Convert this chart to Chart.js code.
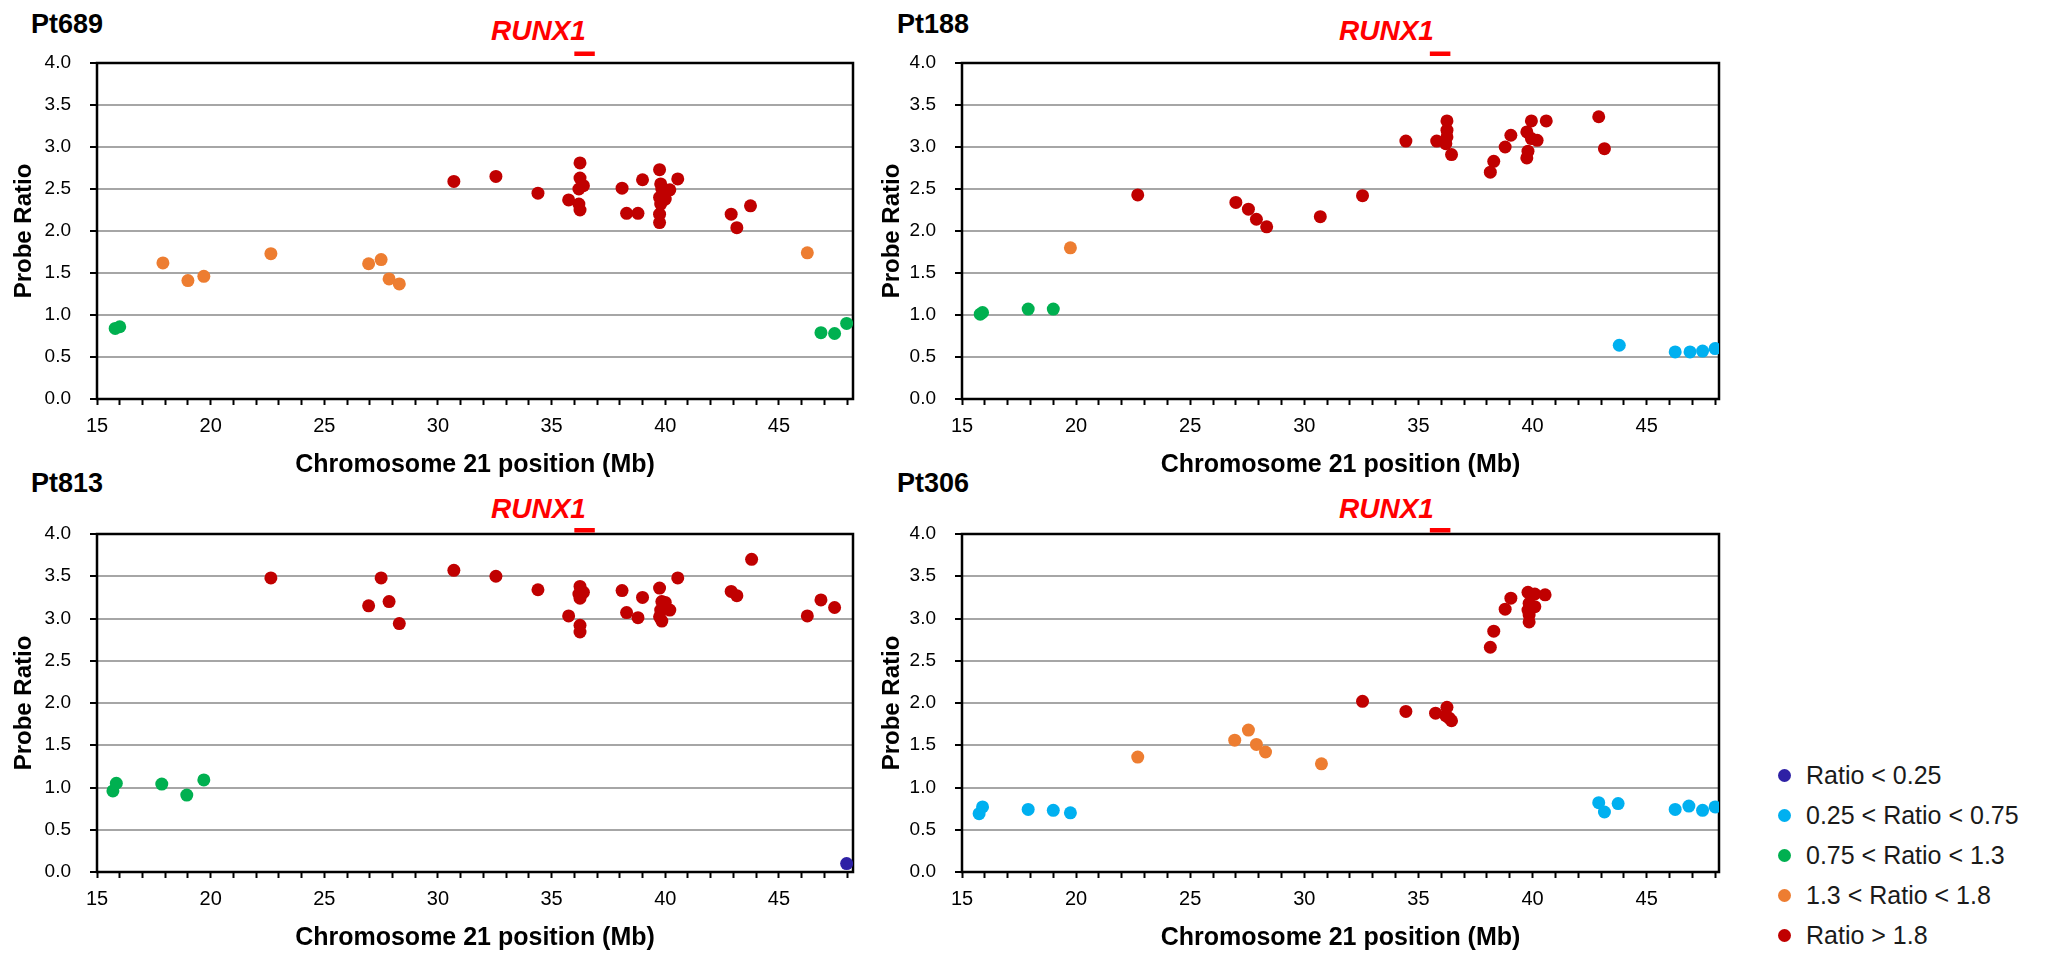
<!DOCTYPE html>
<html>
<head>
<meta charset="utf-8">
<title>Chromosome 21 probe ratios</title>
<script src="https://cdn.jsdelivr.net/npm/chart.js@4.4.1/dist/chart.umd.min.js"></script>
<style>
    body { margin: 0; background: #fff; width: 2049px; height: 954px; position: relative; overflow: hidden; font-family: "Liberation Sans", Arial, sans-serif; }
    canvas { position: absolute; }
    .pt { position: absolute; font-weight: bold; font-size: 27px; line-height: 1; color: #000; }
    .gene { position: absolute; font-weight: bold; font-style: italic; font-size: 28px; line-height: 1; color: #ff0000; }
    #legend { position: absolute; left: 1778px; top: 755px; }
    #legend div { display: flex; align-items: center; height: 40px; font-size: 25px; color: #1a1a1a; white-space: nowrap; }
    #legend span { display: inline-block; width: 13px; height: 13px; border-radius: 50%; margin-right: 15px; }
</style>
</head>
<body>

<div class="pt" style="left:31px; top:11px;">Pt689</div>
<div class="pt" style="left:897px; top:11px;">Pt188</div>
<div class="pt" style="left:31px; top:470px;">Pt813</div>
<div class="pt" style="left:897px; top:470px;">Pt306</div>

<div class="gene" style="left:491px; top:17px;">RUNX1</div>
<div class="gene" style="left:1339px; top:17px;">RUNX1</div>
<div class="gene" style="left:491px; top:495px;">RUNX1</div>
<div class="gene" style="left:1339px; top:495px;">RUNX1</div>

<canvas id="c1" width="870" height="480" style="left:0; top:0;"></canvas>
<canvas id="c2" width="880" height="480" style="left:870px; top:0;"></canvas>
<canvas id="c3" width="870" height="474" style="left:0; top:480px;"></canvas>
<canvas id="c4" width="880" height="474" style="left:870px; top:480px;"></canvas>

<div id="legend"></div>

<script>
// ratio classes (legend order)
const classLabels = ['Ratio < 0.25', '0.25 < Ratio < 0.75', '0.75 < Ratio < 1.3', '1.3 < Ratio < 1.8', 'Ratio > 1.8'];
const classColors = ['#2E21A5', '#00B0F0', '#00B050', '#ED7D31', '#C00000'];

// [position Mb, probe ratio]
const pt689Normal = [[15.8, 0.84], [16.0, 0.86], [46.85, 0.79], [47.45, 0.78], [47.98, 0.9]];
const pt689Gain = [[17.9, 1.62], [19.0, 1.41], [19.7, 1.46], [22.65, 1.73], [26.95, 1.61], [27.5, 1.66], [27.85, 1.43], [28.3, 1.37], [46.25, 1.74]];
const pt689Amp = [[30.7, 2.59], [32.55, 2.65], [34.4, 2.45], [35.75, 2.37], [36.25, 2.81], [36.25, 2.63], [36.2, 2.5], [36.4, 2.54], [36.2, 2.32], [36.25, 2.25],
    [38.1, 2.51], [38.3, 2.21], [38.8, 2.21], [39.0, 2.61], [39.75, 2.73], [39.8, 2.56], [39.85, 2.5], [39.75, 2.4], [39.8, 2.32], [39.75, 2.2],
    [39.75, 2.1], [40.0, 2.38], [40.2, 2.49], [40.55, 2.62], [42.9, 2.2], [43.15, 2.04], [43.75, 2.3]];

const pt188Loss = [[43.8, 0.64], [46.25, 0.56], [46.9, 0.56], [47.45, 0.57], [48.0, 0.6]];
const pt188Normal = [[15.8, 1.01], [15.9, 1.03], [17.9, 1.07], [19.0, 1.07]];
const pt188Gain = [[19.75, 1.8]];
const pt188Amp = [[22.7, 2.43], [27.0, 2.34], [27.55, 2.26], [27.9, 2.14], [28.35, 2.05], [30.7, 2.17], [32.55, 2.42], [34.45, 3.07], [35.8, 3.07],
    [36.25, 3.31], [36.25, 3.2], [36.25, 3.12], [36.2, 3.04], [36.45, 2.91], [38.15, 2.7], [38.3, 2.83], [38.8, 3.0], [39.05, 3.14],
    [39.75, 2.87], [39.8, 2.95], [39.75, 3.18], [39.95, 3.31], [39.95, 3.1], [40.2, 3.08], [40.6, 3.31], [42.9, 3.36], [43.15, 2.98]];

const pt813Low = [[47.98, 0.1]];
const pt813Normal = [[15.7, 0.96], [15.85, 1.05], [17.85, 1.04], [18.95, 0.91], [19.7, 1.09]];
const pt813Amp = [[22.65, 3.48], [26.95, 3.15], [27.5, 3.48], [27.85, 3.2], [28.3, 2.94], [30.7, 3.57], [32.55, 3.5], [34.4, 3.34], [35.75, 3.03],
    [36.25, 3.38], [36.2, 3.29], [36.4, 3.31], [36.25, 3.24], [36.25, 2.92], [36.25, 2.84], [38.1, 3.33], [38.3, 3.07], [38.8, 3.01],
    [39.0, 3.25], [39.75, 3.36], [39.85, 3.2], [39.8, 3.1], [39.75, 3.02], [39.85, 2.97], [40.0, 3.19], [40.2, 3.1], [40.55, 3.48],
    [42.9, 3.32], [43.15, 3.27], [43.8, 3.7], [46.25, 3.03], [46.85, 3.22], [47.45, 3.13]];

const pt306Loss = [[15.75, 0.69], [15.9, 0.77], [17.9, 0.74], [19.0, 0.73], [19.75, 0.7], [42.9, 0.82], [43.15, 0.71], [43.75, 0.81],
    [46.25, 0.74], [46.85, 0.78], [47.45, 0.73], [48.0, 0.77]];
const pt306Gain = [[22.7, 1.36], [26.95, 1.56], [27.55, 1.68], [27.9, 1.51], [28.3, 1.42], [30.75, 1.28]];
const pt306Amp = [[32.55, 2.02], [34.45, 1.9], [35.75, 1.88], [36.25, 1.95], [36.2, 1.85], [36.35, 1.82], [36.45, 1.79], [38.15, 2.66],
    [38.3, 2.85], [38.8, 3.11], [39.05, 3.24], [39.8, 3.31], [39.85, 3.18], [39.8, 3.1], [39.85, 3.04], [39.85, 2.96], [40.1, 3.29],
    [40.1, 3.14], [40.55, 3.28]];

// RUNX1 span drawn above each panel (Mb)
const runxPt689 = [36.0, 36.9];
const runxPt188 = [35.5, 36.4];
const runxPt813 = [36.0, 36.9];
const runxPt306 = [35.5, 36.4];

const xMin = 15;
const yMin = 0, yMax = 4, yStep = 0.5;

// plot frame + gene bar
const framePlugin = {
    id: 'frame',
    beforeDatasetsDraw(chart, args, opts) {
        const ctx = chart.ctx;
        const a = chart.chartArea;
        const x = chart.scales.x;
        ctx.save();
        ctx.strokeStyle = '#000';
        ctx.lineWidth = 2.5;
        ctx.strokeRect(a.left, a.top, a.right - a.left, a.bottom - a.top);
        const x1 = x.getPixelForValue(opts.gene[0]);
        const x2 = x.getPixelForValue(opts.gene[1]);
        ctx.fillStyle = '#ff0000';
        ctx.fillRect(x1, a.top - opts.gap - 4.5, x2 - x1, 4.5);
        ctx.restore();
    }
};

function makeChart(id, sets, cfg) {
    const datasets = sets.map(([cls, pts]) => ({
        label: classLabels[cls],
        data: pts.map(p => ({ x: p[0], y: p[1] })),
        backgroundColor: classColors[cls],
        borderWidth: 0,
        pointRadius: 6.5,
        pointHoverRadius: 6.5
    }));

    new Chart(document.getElementById(id), {
        type: 'scatter',
        data: { datasets: datasets },
        plugins: [framePlugin],
        options: {
            responsive: false,
            animation: false,
            events: [],
            layout: { padding: cfg.pad },
            plugins: {
                legend: { display: false },
                tooltip: { enabled: false },
                frame: { gene: cfg.gene, gap: cfg.gap }
            },
            scales: {
                x: {
                    type: 'linear',
                    min: xMin,
                    max: cfg.xMax,
                    afterFit: s => { s.height = cfg.xH; },
                    border: { display: false },
                    grid: { drawOnChartArea: false, tickColor: '#000', tickLength: 6, tickWidth: 2 },
                    ticks: {
                        stepSize: 1,
                        maxTicksLimit: 100,
                        includeBounds: false,
                        autoSkip: false,
                        maxRotation: 0,
                        padding: 9,
                        color: '#000',
                        font: { family: 'Liberation Sans', size: 20 },
                        callback: v => (v % 5 === 0 ? String(v) : '')
                    },
                    title: {
                        display: true,
                        text: 'Chromosome 21 position (Mb)',
                        color: '#000',
                        font: { family: 'Liberation Sans', size: 25, weight: 'bold' },
                        padding: { top: 0, bottom: cfg.xTitlePad }
                    }
                },
                y: {
                    min: yMin,
                    max: yMax,
                    afterFit: s => { s.width = cfg.yW; },
                    border: { display: false },
                    grid: { color: '#a6a6a6', lineWidth: 2, tickColor: '#000', tickLength: 7, tickWidth: 2 },
                    ticks: {
                        stepSize: yStep,
                        padding: 19,
                        color: '#000',
                        font: { family: 'Liberation Sans', size: 19 },
                        callback: v => v.toFixed(1)
                    },
                    title: {
                        display: true,
                        text: 'Probe Ratio',
                        color: '#000',
                        font: { family: 'Liberation Sans', size: 24, weight: 'bold' },
                        padding: { top: cfg.yTitlePad, bottom: 0 }
                    }
                }
            }
        }
    });
}

makeChart('c1', [[2, pt689Normal], [3, pt689Gain], [4, pt689Amp]],
    { pad: { top: 63, right: 17, bottom: 0, left: 0 }, yW: 97, xH: 81, xMax: 48.26, gene: runxPt689, gap: 7, xTitlePad: 0, yTitlePad: 10 });
makeChart('c2', [[1, pt188Loss], [2, pt188Normal], [3, pt188Gain], [4, pt188Amp]],
    { pad: { top: 63, right: 31, bottom: 0, left: 0 }, yW: 92, xH: 81, xMax: 48.17, gene: runxPt188, gap: 7, xTitlePad: 0, yTitlePad: 8 });
makeChart('c3', [[0, pt813Low], [2, pt813Normal], [4, pt813Amp]],
    { pad: { top: 54, right: 17, bottom: 0, left: 0 }, yW: 97, xH: 82, xMax: 48.26, gene: runxPt813, gap: 1.5, xTitlePad: 1, yTitlePad: 10 });
makeChart('c4', [[1, pt306Loss], [3, pt306Gain], [4, pt306Amp]],
    { pad: { top: 54, right: 31, bottom: 0, left: 0 }, yW: 92, xH: 82, xMax: 48.17, gene: runxPt306, gap: 1.5, xTitlePad: 1, yTitlePad: 8 });

// legend
const legend = document.getElementById('legend');
classLabels.forEach((label, i) => {
    const row = document.createElement('div');
    const dot = document.createElement('span');
    dot.style.background = classColors[i];
    row.appendChild(dot);
    row.appendChild(document.createTextNode(label));
    legend.appendChild(row);
});
</script>
</body>
</html>
